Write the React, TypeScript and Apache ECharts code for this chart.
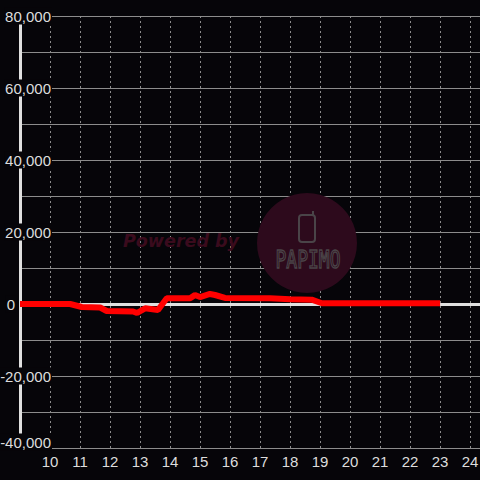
import React, { useEffect, useRef } from "react";
import * as echarts from "echarts";

const hours = [9, 10.67, 11.06, 11.67, 11.89, 12.77, 12.9, 13.17, 13.6, 13.89, 14.67, 14.83, 15.0, 15.33, 15.5, 15.83, 17.33, 18.0, 18.72, 19.06, 23.0];
const values = [0, 0, -830, -970, -1940, -2080, -2500, -1190, -1670, 1580, 1580, 2500, 1940, 2780, 2500, 1700, 1600, 1300, 1200, 200, 200];
const zeroLine = [0];

const BG = "#060509";
const TXT = "#dddddd";
const GRID = "#8c8c8c";

export default function App() {
  const ref = useRef<HTMLDivElement>(null);
  useEffect(() => {
    if (!ref.current) return;
    const chart = echarts.init(ref.current, null, { renderer: "svg" });
    const data = hours.map((h, i) => [h, values[i]]);
    const font = "Liberation Sans, Arial, sans-serif";
    chart.setOption({
      animation: false,
      backgroundColor: BG,
      grid: { left: 20, right: 0, top: 16, bottom: 32, containLabel: false, outerBoundsMode: "none" },
      xAxis: {
        type: "value",
        min: 9,
        max: 24.33,
        interval: 1,
        axisLine: { show: false },
        axisTick: { show: false },
        axisLabel: {
          color: TXT,
          fontSize: 15,
          fontFamily: font,
          margin: 6,
          formatter: (v: number) => (Number.isInteger(v) && v > 9 ? String(v) : ""),
        },
        splitLine: { show: true, lineStyle: { color: GRID, type: [2, 3], width: 1 } },
      },
      yAxis: {
        type: "value",
        min: -40000,
        max: 80000,
        interval: 20000,
        axisLine: { show: true, onZero: false, lineStyle: { color: "#e0e0e0", width: 3 } },
        axisTick: { show: false },
        axisLabel: {
          inside: true,
          margin: 32,
          align: "right",
          color: TXT,
          fontSize: 15,
          fontFamily: font,
          formatter: (v: number) => {
            const s = v.toLocaleString("en-US");
            if (v === 0) return "{n|0}{s| }";
            if (v === -40000) return "{n|" + s + "}\n{g| }";
            return "{n|" + s + "}";
          },
          rich: {
            n: {
              color: TXT,
              fontSize: 15,
              fontFamily: font,
              backgroundColor: BG,
              padding: [1, 1],
              lineHeight: 17,
            },
            s: { width: 36, fontSize: 15, lineHeight: 17 },
            g: { fontSize: 10, lineHeight: 12 },
          },
        },
        splitLine: { show: true, lineStyle: { color: GRID, width: 1 } },
        minorTick: { show: false, splitNumber: 2 },
        minorSplitLine: { show: true, lineStyle: { color: GRID, width: 1 } },
      },
      graphic: [
        {
          type: "circle",
          z: 1,
          shape: { cx: 307, cy: 243, r: 50 },
          style: { fill: "#2d0a1c" },
          silent: true,
        },
        {
          type: "rect",
          z: 1,
          shape: { x: 299, y: 215, width: 16, height: 27, r: 3 },
          style: { fill: "none", stroke: "#4a4448", lineWidth: 2 },
          silent: true,
        },
        {
          type: "line",
          z: 1,
          shape: { x1: 313, y1: 215, x2: 313, y2: 211 },
          style: { stroke: "#4a4448", lineWidth: 2 },
          silent: true,
        },
        {
          type: "text",
          z: 1,
          x: 308,
          y: 259,
          scaleY: 1.35,
          style: {
            text: "PAPIMO",
            fill: "none",
            stroke: "#4a4448",
            lineWidth: 1,
            fontSize: 18,
            fontFamily: "DejaVu Sans Mono, monospace",
            align: "center",
            verticalAlign: "middle",
          },
          silent: true,
        },
        {
          type: "text",
          z: 1,
          x: 123,
          y: 241,
          style: {
            text: "Powered by",
            fill: "#3a0b1d",
            fontSize: 17.5,
            fontWeight: "bold",
            fontStyle: "italic",
            fontFamily: "DejaVu Sans, sans-serif",
            align: "left",
            verticalAlign: "middle",
          },
          silent: true,
        },
      ],
      series: [
        {
          type: "line",
          data: [],
          z: 3,
          silent: true,
          markLine: {
            silent: true,
            symbol: "none",
            label: { show: false },
            lineStyle: { color: "#e0e0e0", width: 3, type: "solid" },
            data: zeroLine.map((v) => ({ yAxis: v })),
          },
        },
        {
          type: "line",
          data,
          symbol: "none",
          z: 5,
          lineStyle: { color: "#ff0000", width: 6 },
        },
      ],
    });
    return () => chart.dispose();
  }, []);
  return (
    <div
      ref={ref}
      style={{ position: "fixed", left: 0, top: 0, width: 480, height: 480 }}
    />
  );
}
